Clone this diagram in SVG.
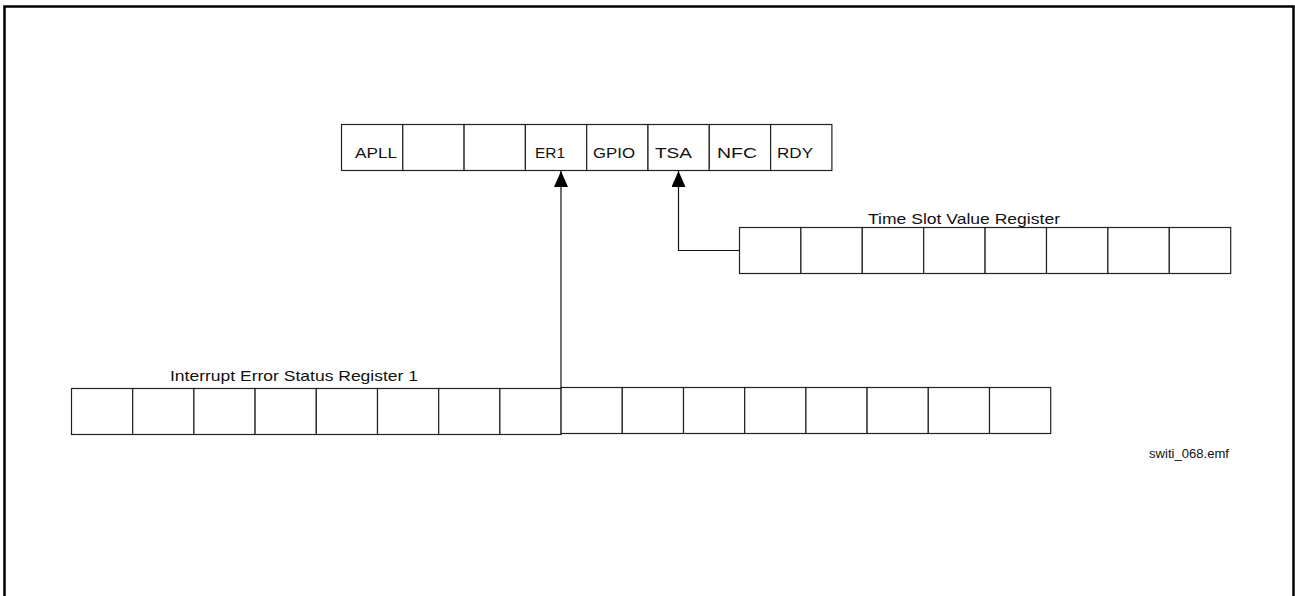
<svg xmlns="http://www.w3.org/2000/svg" width="1295" height="596" viewBox="0 0 1295 596">
<defs>
<marker id="ah" viewBox="0 0 16 14" refX="16" refY="7" markerWidth="16" markerHeight="14" markerUnits="userSpaceOnUse" orient="auto">
<path d="M0,0 L16,7 L0,14 Z" fill="#000"/>
</marker>
<style>
.cell{fill:#fff;stroke:#222;stroke-width:1.2}
.lbl{font-family:"Liberation Sans",Arial,sans-serif;font-size:15px;fill:#111}
.conn{fill:none;stroke:#111;stroke-width:1.2}
</style>
</defs>
<rect x="0" y="0" width="1295" height="596" fill="#fff"/>
<rect x="4.5" y="6.5" width="1289" height="620" fill="none" stroke="#000" stroke-width="2.5"/>

<g id="top-register">
<rect class="cell" x="341.5" y="124.5" width="61.3" height="46"/>
<rect class="cell" x="402.8" y="124.5" width="61.3" height="46"/>
<rect class="cell" x="464.1" y="124.5" width="61.3" height="46"/>
<rect class="cell" x="525.4" y="124.5" width="61.3" height="46"/>
<rect class="cell" x="586.7" y="124.5" width="61.3" height="46"/>
<rect class="cell" x="648" y="124.5" width="61.3" height="46"/>
<rect class="cell" x="709.3" y="124.5" width="61.3" height="46"/>
<rect class="cell" x="770.6" y="124.5" width="61.3" height="46"/>
<text class="lbl" x="355" y="158" textLength="42" lengthAdjust="spacingAndGlyphs">APLL</text>
<text class="lbl" x="535" y="158" textLength="30" lengthAdjust="spacingAndGlyphs">ER1</text>
<text class="lbl" x="593" y="158" textLength="42" lengthAdjust="spacingAndGlyphs">GPIO</text>
<text class="lbl" x="655" y="158" textLength="37" lengthAdjust="spacingAndGlyphs">TSA</text>
<text class="lbl" x="717" y="158" textLength="40" lengthAdjust="spacingAndGlyphs">NFC</text>
<text class="lbl" x="777" y="158" textLength="36" lengthAdjust="spacingAndGlyphs">RDY</text>
</g>

<g id="time-slot-register">
<text class="lbl" x="868" y="224" textLength="192" lengthAdjust="spacingAndGlyphs">Time Slot Value Register</text>
<rect class="cell" x="739.5" y="227.5" width="61.4" height="46"/>
<rect class="cell" x="800.9" y="227.5" width="61.4" height="46"/>
<rect class="cell" x="862.3" y="227.5" width="61.4" height="46"/>
<rect class="cell" x="923.7" y="227.5" width="61.4" height="46"/>
<rect class="cell" x="985.1" y="227.5" width="61.4" height="46"/>
<rect class="cell" x="1046.5" y="227.5" width="61.4" height="46"/>
<rect class="cell" x="1107.9" y="227.5" width="61.4" height="46"/>
<rect class="cell" x="1169.3" y="227.5" width="61.4" height="46"/>
</g>

<g id="interrupt-register">
<text class="lbl" x="170" y="381" textLength="248" lengthAdjust="spacingAndGlyphs">Interrupt Error Status Register 1</text>
<rect class="cell" x="71.5" y="388.5" width="61.2" height="46"/>
<rect class="cell" x="132.7" y="388.5" width="61.2" height="46"/>
<rect class="cell" x="193.9" y="388.5" width="61.2" height="46"/>
<rect class="cell" x="255.1" y="388.5" width="61.2" height="46"/>
<rect class="cell" x="316.3" y="388.5" width="61.2" height="46"/>
<rect class="cell" x="377.5" y="388.5" width="61.2" height="46"/>
<rect class="cell" x="438.7" y="388.5" width="61.2" height="46"/>
<rect class="cell" x="499.9" y="388.5" width="61.2" height="46"/>
<rect class="cell" x="561.1" y="387.5" width="61.2" height="46"/>
<rect class="cell" x="622.3" y="387.5" width="61.2" height="46"/>
<rect class="cell" x="683.5" y="387.5" width="61.2" height="46"/>
<rect class="cell" x="744.7" y="387.5" width="61.2" height="46"/>
<rect class="cell" x="805.9" y="387.5" width="61.2" height="46"/>
<rect class="cell" x="867.1" y="387.5" width="61.2" height="46"/>
<rect class="cell" x="928.3" y="387.5" width="61.2" height="46"/>
<rect class="cell" x="989.5" y="387.5" width="61.2" height="46"/>
</g>

<g id="connectors">
<path class="conn" d="M561,388 L561,171" marker-end="url(#ah)"/>
<path class="conn" d="M739.5,250.5 L678.5,250.5 L678.5,171" marker-end="url(#ah)"/>
</g>

<text x="1149" y="458" font-family="Liberation Sans, Arial, sans-serif" font-size="12" fill="#111" textLength="80" lengthAdjust="spacingAndGlyphs">switi_068.emf</text>
</svg>
